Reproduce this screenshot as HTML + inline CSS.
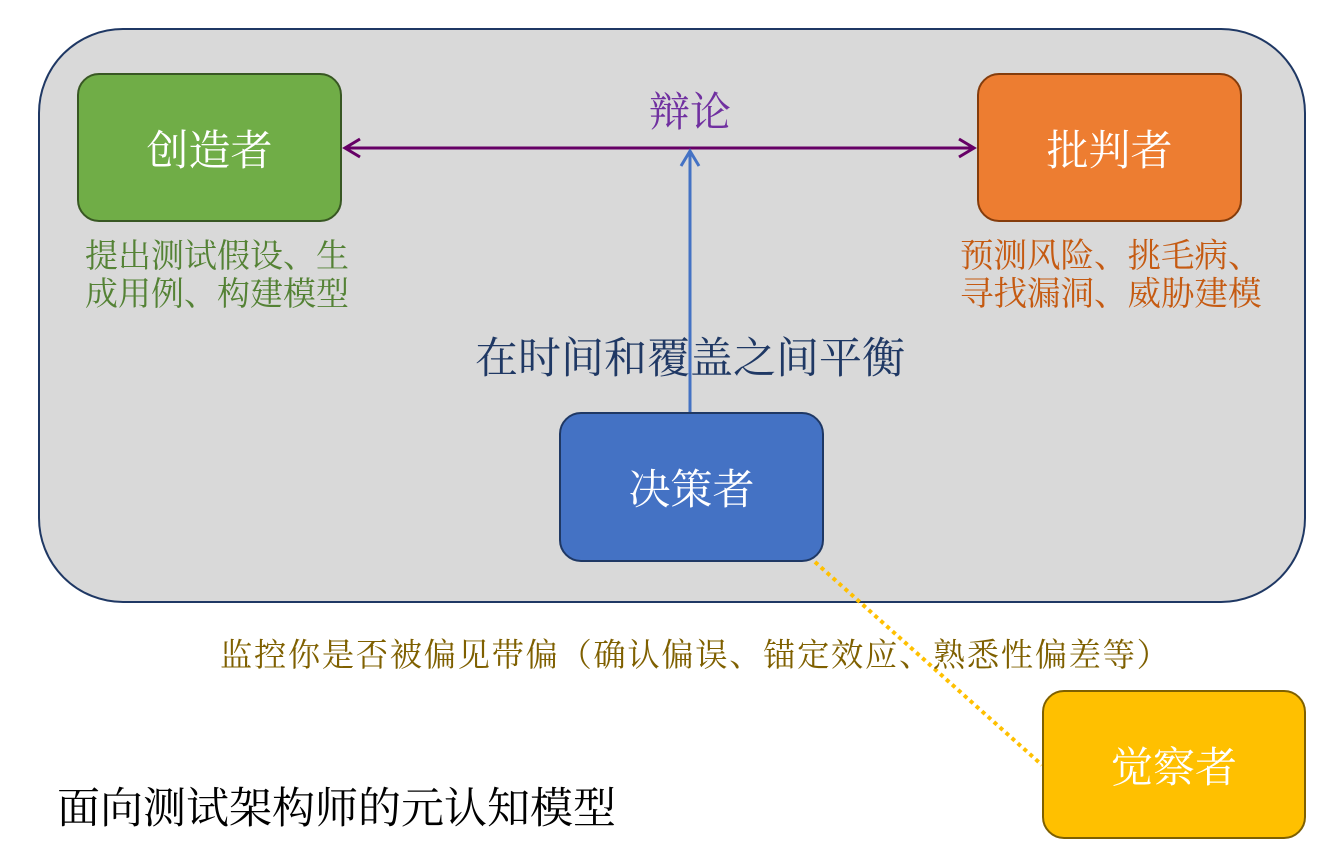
<!DOCTYPE html>
<html><head><meta charset="utf-8"><style>
body{margin:0;width:1338px;height:860px;background:#fff;overflow:hidden;position:relative;font-family:"Liberation Serif","Noto Serif CJK SC",serif}
.t{position:absolute;white-space:nowrap}
.box{position:absolute;border-radius:22px;border:2px solid;display:flex;align-items:center;justify-content:center;color:#fff;font-size:42px;box-sizing:border-box}
</style></head><body>
<div style="position:absolute;left:38px;top:28px;width:1268px;height:575px;border-radius:85px;background:#d9d9d9;border:2px solid #1f3864;box-sizing:border-box"></div>
<svg style="position:absolute;left:0;top:0" width="1338" height="860">
<line x1="346" y1="148" x2="973" y2="148" stroke="#660066" stroke-width="3"/>
<polyline points="360,139 345,148 360,157" fill="none" stroke="#660066" stroke-width="3"/>
<polyline points="959,139 974,148 959,157" fill="none" stroke="#660066" stroke-width="3"/>
<line x1="690" y1="412" x2="690" y2="152" stroke="#4472c4" stroke-width="3"/>
<polyline points="681,166 690,151 699,166" fill="none" stroke="#4472c4" stroke-width="3"/>
<line x1="815" y1="562" x2="1042" y2="765" stroke="#ffc000" stroke-width="4" stroke-dasharray="4,4"/>
</svg>
<div class="box" style="left:77px;top:73px;width:265px;height:149px;background:#70ad47;border-color:#385723">创造者</div>
<div class="box" style="left:977px;top:73px;width:265px;height:149px;background:#ed7d31;border-color:#843c0c">批判者</div>
<div class="box" style="left:559px;top:412px;width:265px;height:150px;background:#4472c4;border-color:#1f3864">决策者</div>
<div class="box" style="left:1042px;top:690px;width:264px;height:149px;background:#ffc000;border-color:#7f6000">觉察者</div>
<div class="t" style="left:649px;top:79px;font-size:41px;color:#7030a0">辩论</div>
<div class="t" style="left:85px;top:238px;font-size:33px;line-height:38px;color:#548235">提出测试假设、生<br>成用例、构建模型</div>
<div class="t" style="left:960px;top:238px;font-size:33.5px;line-height:38px;color:#c55a11">预测风险、挑毛病、<br>寻找漏洞、威胁建模</div>
<div class="t" style="left:475px;top:325px;font-size:43px;color:#1f3864">在时间和覆盖之间平衡</div>
<div class="t" style="left:220px;top:630px;font-size:32.3px;letter-spacing:1.65px;color:#7f6000">监控你是否被偏见带偏（确认偏误、锚定效应、熟悉性偏差等）</div>
<div class="t" style="left:57px;top:775px;font-size:43px;color:#000">面向测试架构师的元认知模型</div>
</body></html>
